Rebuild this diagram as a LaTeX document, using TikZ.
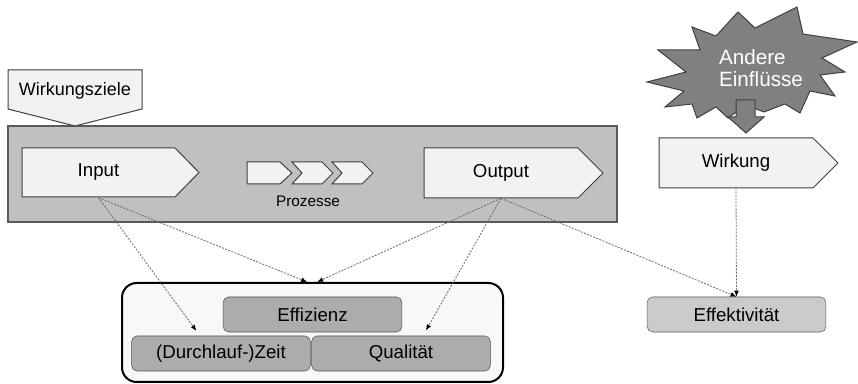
\documentclass[tikz,border=0pt]{standalone}
\usepackage{fontspec}
\setmainfont{Liberation Sans}
\usetikzlibrary{arrows.meta,patterns}

\begin{document}
\begin{tikzpicture}[x=0.75pt,y=0.75pt,yscale=-1,xscale=1,
  font=\fontsize{14}{16}\selectfont,
  shapeline/.style={draw={rgb, 255:red, 64; green, 64; blue, 64}, line width=0.75pt, line join=miter},
  arrowshape/.style={shapeline, fill={rgb, 255:red, 242; green, 242; blue, 242}},
  arrowbody/.style={minimum width=115.5pt, minimum height=37.5pt, inner sep=0pt},
  kpibox/.style={draw={rgb, 255:red, 80; green, 80; blue, 80}, fill={rgb, 255:red, 172; green, 172; blue, 172}, rounded corners=4pt, minimum width=134pt, minimum height=26.25pt, inner sep=0pt},
  link/.style={draw={rgb, 255:red, 105; green, 105; blue, 105}, line width=0.6pt, dash pattern=on 1.5pt off 1pt, -{Latex[black, length=4.5pt, width=3.6pt]}}
]
\useasboundingbox (0,0) rectangle (858,384);

%Shape: Rectangle (process frame)
\draw [draw={rgb, 255:red, 89; green, 89; blue, 89}, fill={rgb, 255:red, 192; green, 192; blue, 192}, line width=1.1pt] (8,126) rectangle (617,222);

%Shape: Callout (goals)
\draw [arrowshape] (8,70) -- (142,70) -- (142,109) -- (75,126) -- (8,109) -- cycle;
% Text Node
\node [minimum width=100.5pt, minimum height=29.25pt, inner sep=0pt, font=\fontsize{13.5}{16}\selectfont] (ziele) at (75,91) {Wirkungsziele};

%Shape: Pentagon arrows
\draw [arrowshape] (22,148) -- (175,148) -- (199,172.5) -- (175,197) -- (22,197) -- cycle;
\draw [arrowshape] (424,148) -- (578,148) -- (603,173) -- (578,198) -- (424,198) -- cycle;
\draw [arrowshape] (659,138) -- (813,138) -- (838,163) -- (813,188) -- (659,188) -- cycle;
% Text Nodes
\node [arrowbody] (input) at (98.5,172.5) {Input};
\node [arrowbody] (output) at (501,173) {Output};
\node [arrowbody] (wirkung) at (736,163) {Wirkung};

%Shape: Chevrons
\draw [arrowshape] (247,162) -- (280,162) -- (292,173) -- (280,184) -- (247,184) -- cycle;
\foreach \x in {292,332} {
  \draw [arrowshape] (\x,162) -- (\x+30,162) -- (\x+41,173) -- (\x+30,184) -- (\x,184) -- (\x+10,173) -- cycle;
}
% Text Node
\node [font=\fontsize{11.5}{13}\selectfont] (prozesse) at (308,201) {Prozesse};

%Shape: Explosion
\draw [shapeline, fill={rgb, 255:red, 128; green, 128; blue, 128}] (647,82) -- (686,72) -- (658,50) -- (700,50) -- (692,27) -- (716,36) -- (738,12) -- (755,28) -- (797,7) -- (803,34) -- (857,42) -- (822,58) -- (845,72) -- (820,75) -- (835,96) -- (810,91) -- (800,113) -- (785,104) -- (764,112) -- (746,105) -- (728,118) -- (716,107) -- (697,118) -- (692,104) -- (665,107) -- (684,91) -- cycle;
%Shape: Block arrow down
\draw [shapeline, fill={rgb, 255:red, 128; green, 128; blue, 128}] (736,100) -- (755,100) -- (755,117) -- (764,117) -- (746,133) -- (728,117) -- (736,117) -- cycle;
% Text Node
\node [text=white, align=left, inner sep=0pt, font=\fontsize{15.5}{17}\selectfont] (einfl) at (761,68) {Andere\\Einflüsse};

%Shape: Rounded Rectangle (efficiency group)
\node [draw=black, fill={rgb, 255:red, 248; green, 248; blue, 248}, line width=1.5pt, rounded corners=11pt, minimum width=285.75pt, minimum height=74.25pt, inner sep=0pt] (gruppe) at (312.5,332.5) {};
\node [kpibox] (effizienz) at (312.5,314.5) {Effizienz};
\node [kpibox] (zeit) at (221,353.5) {(Durchlauf-)Zeit};
\node [kpibox] (quali) at (401,353.5) {Qualität};

%Shape: Rounded Rectangle (effectiveness)
\node [kpibox, fill={rgb, 255:red, 200; green, 200; blue, 200}, postaction={pattern=crosshatch dots, pattern color={rgb, 255:red, 225; green, 225; blue, 225}}] (effekt) at (736.5,314.5) {Effektivität};

%Straight Lines
\draw [link, shorten >=4.5pt] (input.south) -- ([xshift=-15.75pt]zeit.north);
\draw [link] (input.south) -- ([xshift=-4pt]gruppe.north);
\draw [link] (output.south) -- ([xshift=3.5pt]gruppe.north);
\draw [link, shorten >=4.5pt] (output.south) -- ([xshift=16.5pt]quali.north);
\draw [link] (output.south) -- (effekt.north);
\draw [link] (wirkung.south) -- (effekt.north);

\end{tikzpicture}
\end{document}
